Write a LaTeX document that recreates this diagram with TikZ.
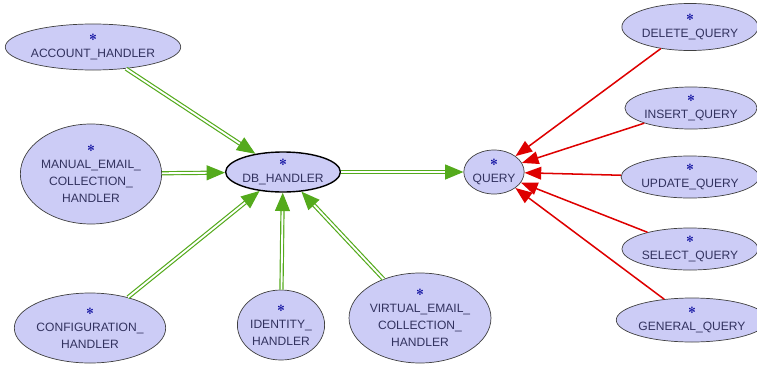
\documentclass[tikz,border=0pt]{standalone}
\usepackage{fontspec}
\setmainfont{Liberation Sans}
\newfontfamily\symfont{DejaVu Sans}
\usetikzlibrary{shapes.geometric, arrows.meta, positioning}
\definecolor{lav}{RGB}{204,204,246}
\definecolor{navy}{RGB}{50,50,95}
\definecolor{grn}{RGB}{84,170,28}
\definecolor{rd}{RGB}{222,0,0}
\newcommand{\ico}{{\symfont\fontsize{7.5}{7.5}\selectfont\color{blue!60!black}✻}}

\begin{document}
\begin{tikzpicture}[
  x=0.03cm, y=-0.03cm,
  every node/.style={font=\fontsize{10.3}{14.5}\selectfont, text=navy},
  ent/.style={ellipse, draw=black!75, line width=0.6pt, fill=lav, inner sep=0pt, align=center},
  hub/.style={ent, very thick, draw=black},
  uses/.style={draw=grn, line width=1pt, double=white, double distance=1.6pt, -{Triangle[length=5.5mm, width=4.5mm]}},
  kind/.style={draw=rd, line width=1.3pt, -{Triangle[length=5mm, width=3.8mm]}},
]
\useasboundingbox (0,0) rectangle (757,365);

% Hubs
\node[hub, minimum width=3.33cm, minimum height=1.2cm] (db) at (283,172) {\ico\\DB\_HANDLER};
\node[ent, minimum width=1.65cm, minimum height=1.32cm] (qry) at (494,172) {\ico\\QUERY};

% Handlers
\node[ent, minimum width=4.95cm, minimum height=1.38cm] (acc) at (93,47) {\ico\\ACCOUNT\_HANDLER};
\node[ent, minimum width=3.99cm, minimum height=3.0cm] (man) at (91,174) {\ico\\MANUAL\_EMAIL\_\\COLLECTION\_\\HANDLER};
\node[ent, minimum width=4.38cm, minimum height=2.1cm] (cfg) at (90,328) {\ico\\CONFIGURATION\_\\HANDLER};
\node[ent, minimum width=2.55cm, minimum height=2.1cm] (idn) at (281,325) {\ico\\IDENTITY\_\\HANDLER};
\node[ent, minimum width=3.45cm, minimum height=2.7cm] (vir) at (420,318) {\ico\\VIRTUAL\_EMAIL\_\\COLLECTION\_\\HANDLER};

% Queries
\node[ent, minimum width=3.42cm, minimum height=1.41cm] (del) at (690,27) {\ico\\DELETE\_QUERY};
\node[ent, minimum width=3.39cm, minimum height=1.26cm] (ins) at (691,108) {\ico\\INSERT\_QUERY};
\node[ent, minimum width=3.45cm, minimum height=1.26cm] (upd) at (690,177) {\ico\\UPDATE\_QUERY};
\node[ent, minimum width=3.45cm, minimum height=1.26cm] (sel) at (690,249) {\ico\\SELECT\_QUERY};
\node[ent, minimum width=3.84cm, minimum height=1.32cm] (gen) at (692,320) {\ico\\GENERAL\_QUERY};

% Green arrows
\draw[uses] (acc) -- (db);
\draw[uses] (man) -- (db);
\draw[uses] (cfg) -- (db);
\draw[uses] (idn) -- (db);
\draw[uses] (vir) -- (db);
\draw[uses] (db) -- (qry);

% Red arrows
\draw[kind] (del) -- (qry);
\draw[kind] (ins) -- (qry);
\draw[kind] (upd) -- (qry);
\draw[kind] (sel) -- (qry);
\draw[kind] (gen) -- (qry);
\end{tikzpicture}
\end{document}
